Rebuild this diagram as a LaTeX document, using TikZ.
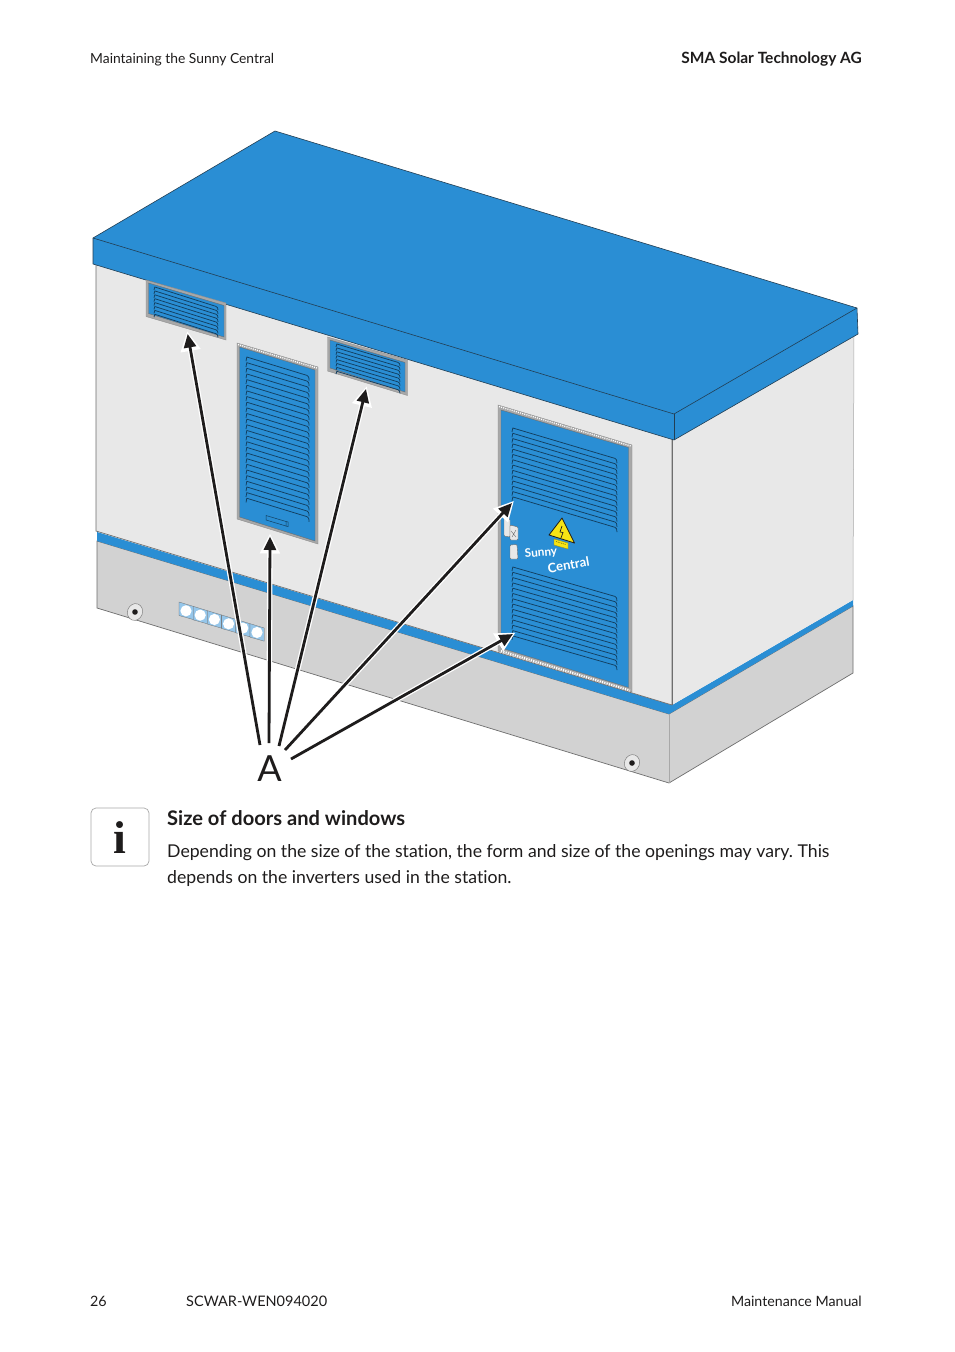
\documentclass[tikz,border=0pt]{standalone}
\usepackage{fontspec}
\setmainfont[Ligatures=NoCommon]{Lato}
\newfontfamily\serifi{Liberation Serif}
\usetikzlibrary{arrows.meta}
\definecolor{smablue}{HTML}{2A8ED4}
\definecolor{wallgrey}{HTML}{E8E8E8}
\definecolor{basegrey}{HTML}{D2D2D2}
\definecolor{linegrey}{HTML}{6E6E6E}
\definecolor{framegrey}{HTML}{A8A8A8}
\definecolor{louverblue}{HTML}{123F61}
\definecolor{inkblack}{HTML}{1E1C1C}
\definecolor{warnyellow}{HTML}{F7E414}
\tikzset{
  edgeline/.style={draw=linegrey,line width=.7pt},
  roofline/.style={draw=#1,line width=.6pt},
  roofline/.default={inkblack!70!smablue},
  doorframe/.style={fill=framegrey,draw=framegrey!85!black,line width=.4pt},
  doorpanel/.style={fill=smablue,draw=linegrey,line width=.4pt},
  hatchline/.style={draw=white,line width=1.3pt,dash pattern=on 1pt off 1.2pt},
  louverline/.style={draw=louverblue,line width=.75pt,line join=round},
  halo/.style={draw=white,line width=5.4pt,-{Triangle[length=20pt,width=19pt]},shorten >=-3pt},
  pointer/.style={draw=inkblack,line width=2.8pt,-{Triangle[length=13.5pt,width=12pt]}},
  headtext/.style={text=inkblack,inner sep=0pt},
  bodytext/.style={font=\fontsize{17.65}{26}\selectfont,text=inkblack,inner sep=0pt,anchor=base west},
  boltring/.style={fill=wallgrey,draw=linegrey,line width=.4pt},
  latch/.style={fill=wallgrey,draw=linegrey,line width=.4pt,rounded corners=1pt},
}
% #1 x-left #2 y-left first #3 x-right #4 y-right first #5 spacing #6 last index
\newcommand{\louverset}[6]{%
  \foreach \i in {0,...,#6}{%
    \pgfmathsetmacro\ya{#2+\i*#5}%
    \pgfmathsetmacro\yb{#4+\i*#5}%
    \draw[louverline] (#1,\ya+#5*.75) -- (#1+.8,\ya) -- (#3-2,\yb-.6) .. controls (#3-.6,\yb) and (#3,\yb+1) .. (#3,\yb+#5*.8);
  }%
}
\begin{document}
\frenchspacing
\begin{tikzpicture}[x=1pt,y=-1pt]
\useasboundingbox (0,0) rectangle (954,1352);
\fill[white] (0,0) rectangle (954,1352);

% base
\path[fill=basegrey,edgeline] (97,541) -- (97,608) -- (669,783) -- (853,673) -- (853,606) -- (669,714) -- cycle;
\draw[draw=framegrey,line width=.6pt] (669,714) -- (669,783);
% strip
\path[fill=smablue] (97,532) -- (97,541) -- (669,714) -- (853,606) -- (853,600) -- (672,705) -- cycle;
% walls
\path[fill=wallgrey,edgeline] (96,260) -- (96,531) -- (672,705) -- (672,436) -- cycle;
\path[fill=wallgrey] (672,436) -- (672,705) -- (853,600) -- (854,334) -- cycle;
\draw[edgeline] (672,436) -- (672,705);
\draw[draw=framegrey,line width=.5pt] (854,334) -- (853,600);
% roof
\path[fill=smablue,roofline] (275,131) -- (857,308) -- (858,334) -- (674,440) -- (93,264) -- (93,238) -- cycle;
\draw[roofline] (93,238) -- (674,414) -- (857,308);
\draw[roofline] (674,414) -- (674,440);

% upper left vent
\path[doorframe] (146,280) -- (226,303) -- (226,340) -- (146,316.5) -- cycle;
\path[doorpanel] (148.5,283) -- (224,305.5) -- (224,337) -- (148.5,313.5) -- cycle;
\louverset{154}{287}{218}{307}{3.9}{7}
% upper right vent
\path[doorframe] (327.5,337) -- (407.5,360) -- (407.5,395.5) -- (327.5,371) -- cycle;
\path[doorpanel] (330,340) -- (405,362.5) -- (405,392) -- (330,368) -- cycle;
\louverset{336}{344}{400}{363}{3.9}{7}
% tall door
\path[doorframe] (237,343) -- (318,367) -- (318,544) -- (237,519) -- cycle;
\draw[hatchline] (238,344.5) -- (317,368);
\path[doorpanel] (239.5,347) -- (315,370) -- (315,541) -- (239.5,517) -- cycle;
\louverset{246}{357}{309}{376}{5.65}{25}
\path[draw=louverblue,line width=.5pt] (266,515.5) -- (286,521.5) -- (286,526) -- (266,520) -- cycle;
\path[draw=louverblue,line width=.5pt] (286,521.5) -- (288,522) -- (288,526.5) -- (286,526);
% large door
\path[doorframe] (498,405) -- (632,445) -- (632,692) -- (498,651) -- cycle;
\draw[hatchline] (499,406.5) -- (631,446);
\path[doorpanel] (501,410) -- (628.5,447.5) -- (628.5,687.5) -- (501,648) -- cycle;
\draw[draw=white,line width=2pt,dash pattern=on 1.2pt off 1.2pt] (501,651) -- (630,690.5);
\louverset{512}{428}{617}{459}{5.3}{13}
\louverset{512}{567}{617}{597}{5.3}{13}
% latches
\path[latch] (504,517) -- (510,519) -- (510,537) -- (504,536) -- cycle;
\path[latch] (510,525) -- (518,527) -- (518,540) -- (510,540) -- cycle;
\draw[draw=linegrey,line width=.4pt] (511,531) -- (516,537) (516,530) -- (512,537);
\path[latch] (510,545) -- (517,544.5) -- (518,559) -- (510,559) -- cycle;
% warning sign
\path[fill=warnyellow,draw=inkblack,line width=.8pt,line join=round] (562,518) -- (574.5,543) -- (549,535) -- cycle;
\draw[inkblack,line width=.7pt] (562,526) -- (560,532) -- (563,532.5) -- (561,538);
\path[fill=warnyellow,draw=warnyellow!60!black,line width=.3pt] (554,539) -- (568,543) -- (568,549) -- (554,545) -- cycle;
\draw[warnyellow!45!black,line width=.6pt,dash pattern=on 1pt off .8pt] (556,541.5) -- (566,544.6);
\node[rotate=5,text=white,inner sep=0pt,font=\fontsize{11.8}{12}\selectfont\bfseries] (sunny) at (541,553) {Sunny};
\node[rotate=10,text=white,inner sep=0pt,font=\fontsize{13}{14}\selectfont\bfseries] (central) at (568.5,565) {Central};

% bolts
\foreach \bx/\by in {135/612,632/763}{
  \path[boltring,rotate around={-20:(\bx,\by)}] (\bx,\by) ellipse [x radius=7.5pt,y radius=8.5pt];
  \fill[inkblack] (\bx,\by) circle [radius=2.8pt];
}
% cable entries
\foreach \k in {0,...,5}{
  \pgfmathsetmacro\cx{179+\k*14.2}
  \pgfmathsetmacro\cy{602+\k*4.33}
  \path[fill=smablue!50!white,draw=linegrey,line width=.3pt] (\cx,\cy) -- (\cx+14.2,\cy+4.33) -- (\cx+14.2,\cy+17.5) -- (\cx,\cy+13.5) -- cycle;
  \fill[white] (\cx+7,\cy+8.8) circle [radius=5.6pt];
}

% callout label and arrows
\node[inner sep=0pt,text=inkblack,font=\fontsize{36}{38}\selectfont] (labelA) at (269.5,768.5) {A};
\coordinate (s1) at (260,745); \coordinate (t1) at (187.7,334);
\coordinate (s2) at (269,743); \coordinate (t2) at (270,536.5);
\coordinate (s3) at (279,746); \coordinate (t3) at (366,389);
\coordinate (s4) at (285,750); \coordinate (t4) at (512,503);
\coordinate (s5) at (291,759); \coordinate (t5) at (513,634);
\foreach \n in {1,...,5}{ \draw[halo] (s\n) -- (t\n); }
\foreach \n in {1,...,5}{ \draw[pointer] (s\n) -- (t\n); }

% header, footer
\node[headtext,anchor=base west,font=\fontsize{13.85}{17}\selectfont] (hl) at (90,63) {Maintaining the Sunny Central};
\node[headtext,anchor=base east,font=\fontsize{15.5}{17}\selectfont\bfseries] (hr) at (862,63) {SMA Solar Technology AG};
\node[headtext,anchor=base west,font=\fontsize{14.3}{17}\selectfont] (fp) at (90,1306) {26};
\node[headtext,anchor=base west,font=\fontsize{14.5}{17}\selectfont] (fc) at (186,1306) {SCWAR-WEN094020};
\node[headtext,anchor=base east,font=\fontsize{14.2}{17}\selectfont] (fm) at (862,1306) {Maintenance Manual};

% info box
\path[draw=framegrey,line width=.7pt,rounded corners=5pt,fill=white] (91,808) rectangle (149,866);
\node[inner sep=0pt,text=inkblack,font=\serifi\bfseries\fontsize{46}{46}\selectfont,anchor=base] (infoi) at (120,853) {i};
\node[bodytext,font=\fontsize{20.1}{26}\selectfont\bfseries] (ti) at (167,825) {Size of doors and windows};
\node[bodytext] (b1) at (167,857) {Depending on the size of the station, the form and size of the openings may vary. This};
\node[bodytext] (b2) at (167,883) {depends on the inverters used in the station.};
\end{tikzpicture}
\end{document}
